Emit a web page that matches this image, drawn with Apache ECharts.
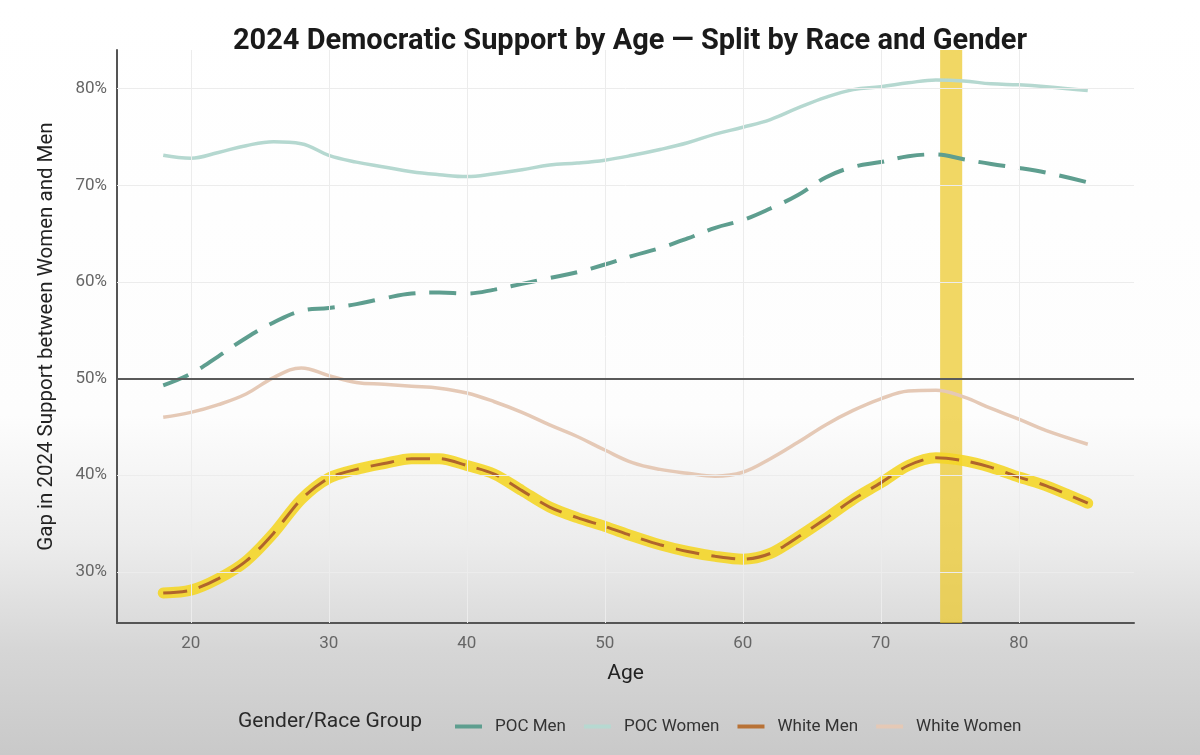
<!DOCTYPE html>
<html>
<head>
<meta charset="utf-8">
<script src="https://cdn.jsdelivr.net/npm/echarts@6/dist/echarts.min.js"></script>
<style>
html,body{margin:0;padding:0;width:1200px;height:755px;overflow:hidden;
background:linear-gradient(to bottom,#ffffff 0%,#fdfdfd 55%,#ececec 72%,#d6d6d6 86%,#c9c9c9 100%);}
#c{width:1200px;height:755px;}
</style>
</head>
<body>
<div id="c"></div>
<script>
const ages = [18,20,22,24,26,28,30,32,34,36,38,40,42,44,46,48,50,52,54,56,58,60,62,64,66,68,70,72,74,76,78,80,82,85];
const pocWomen = [73.1,72.8,73.4,74.1,74.5,74.3,73.1,72.4,71.9,71.4,71.1,70.9,71.2,71.6,72.1,72.3,72.6,73.1,73.7,74.4,75.3,76.0,76.8,78.0,79.1,79.9,80.2,80.6,80.9,80.8,80.5,80.4,80.2,79.8];
const pocMen = [49.3,50.5,52.3,54.2,55.8,57.0,57.3,57.7,58.3,58.8,58.9,58.8,59.2,59.8,60.4,61.0,61.8,62.7,63.5,64.5,65.6,66.4,67.6,69.0,70.8,71.9,72.4,73.0,73.2,72.7,72.2,71.8,71.3,70.3];
const whiteWomen = [46.0,46.5,47.3,48.4,50.1,51.1,50.3,49.6,49.4,49.2,49.0,48.5,47.6,46.5,45.2,44.0,42.6,41.3,40.6,40.2,39.9,40.3,41.7,43.4,45.2,46.7,47.9,48.7,48.8,48.1,46.9,45.8,44.6,43.2];
const whiteMen = [27.8,28.1,29.3,31.1,34.0,37.5,39.7,40.6,41.2,41.7,41.7,41.0,40.1,38.4,36.7,35.6,34.7,33.7,32.8,32.1,31.6,31.3,31.9,33.6,35.5,37.5,39.2,41.0,41.8,41.5,40.8,39.8,38.9,37.1];
const xTicks = [20,30,40,50,60,70,80];
const yTicks = [30,40,50,60,70,80];
const highlightAge = [74.3, 75.9];
const refLine = 50;

const pairs = arr => ages.map((a,i)=>[a,arr[i]]);
const FONT = 'Roboto, "Noto Sans", sans-serif';

const chart = echarts.init(document.getElementById('c'));
chart.setOption({
  backgroundColor: 'transparent',
  animation: false,
  title: {
    text: '2024 Democratic Support by Age \u2014 Split by Race and Gender',
    left: 625, textAlign: 'center', top: 22,
    textStyle: {fontFamily: FONT, fontWeight: 'bold', fontSize: 29, color: '#1a1a1a'}
  },
  graphic: [{
    type: 'text', left: 238, top: 711,
    style: {text: 'Gender/Race Group', fontFamily: FONT, fontSize: 21, fill: '#2a2a2a'}
  }],
  legend: {
    left: 450, top: 713,
    icon: 'rect', itemWidth: 27, itemHeight: 4, itemGap: 18,
    data: ['POC Men','POC Women','White Men','White Women'],
    textStyle: {fontFamily: FONT, fontSize: 17, color: '#333', padding: [0,0,0,8]}
  },
  grid: {left: 117, right: 66, top: 50, bottom: 132},
  xAxis: {
    type: 'value', min: 14.65, max: 88.35,
    name: 'Age', nameLocation: 'middle', nameGap: 40,
    nameTextStyle: {fontFamily: FONT, fontSize: 21, color: '#222'},
    axisLine: {show: true, lineStyle: {color: '#555', width: 2}},
    axisTick: {show: false},
    splitLine: {show: false},
    axisLabel: {customValues: xTicks, fontFamily: FONT, fontSize: 17, color: '#666', margin: 12}
  },
  yAxis: {
    type: 'value', min: 24.7, max: 84,
    name: 'Gap in 2024 Support between Women and Men', nameLocation: 'middle', nameGap: 60,
    nameTextStyle: {fontFamily: FONT, fontSize: 20.5, color: '#222'},
    axisLine: {show: true, lineStyle: {color: '#555', width: 2}},
    axisTick: {show: false},
    splitLine: {show: false},
    axisLabel: {customValues: yTicks, formatter: v => v + '%', fontFamily: FONT, fontSize: 17, color: '#666', margin: 10}
  },
  series: [
    {
      name: 'gridlines', type: 'line', data: [], z: 1, silent: true,
      markLine: {
        silent: true, symbol: 'none', label: {show: false},
        lineStyle: {color: '#ececec', width: 1, type: 'solid'},
        data: yTicks.filter(v=>v!==refLine).map(v=>({yAxis: v})).concat(xTicks.map(v=>({xAxis: v})))
      }
    },
    {
      name: 'POC Women', type: 'line', data: pairs(pocWomen), smooth: 0.4, showSymbol: false, z: 3,
      color: '#b7d9d1',
      lineStyle: {color: '#b5d8d0', width: 3.5}
    },
    {
      name: 'POC Men', type: 'line', data: pairs(pocMen), smooth: 0.4, showSymbol: false, z: 3,
      color: '#5e9e8f',
      lineStyle: {color: '#5e9e8f', width: 4, type: [27,14]}
    },
    {
      name: 'White Women', type: 'line', data: pairs(whiteWomen), smooth: 0.4, showSymbol: false, z: 3,
      color: '#e5c9b6',
      lineStyle: {color: '#e5c9b6', width: 3.5},
      markLine: {
        silent: true, symbol: 'none', label: {show: false},
        lineStyle: {color: '#5a5a5a', width: 2, type: 'solid'},
        data: [{yAxis: refLine}]
      }
    },
    {
      name: 'White Men glow', type: 'line', data: pairs(whiteMen), smooth: 0.3, showSymbol: false, z: 3,
      color: '#f3d632',
      lineStyle: {color: 'rgba(244,214,40,0.9)', width: 11, cap: 'round', join: 'round'}
    },
    {
      name: 'White Men', type: 'line', data: pairs(whiteMen), smooth: 0.3, showSymbol: false, z: 4,
      color: '#b87236',
      lineStyle: {color: '#b0652c', width: 3, type: [24,12]}
    },
    {
      name: 'highlight', type: 'line', data: [], z: 6, silent: true,
      markArea: {
        silent: true,
        itemStyle: {color: 'rgba(236,200,40,0.72)'},
        data: [[{xAxis: highlightAge[0]}, {xAxis: highlightAge[1]}]]
      }
    }
  ]
});
</script>
</body>
</html>
